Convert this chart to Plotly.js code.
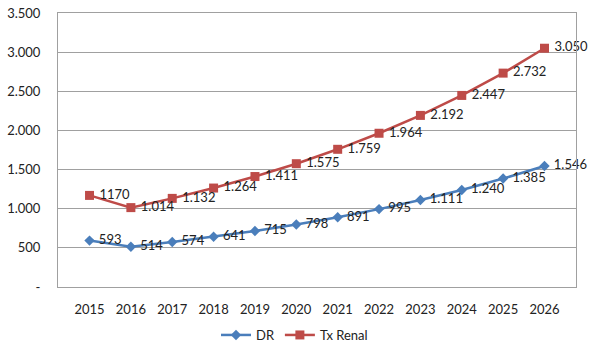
<!DOCTYPE html>
<html>
<head>
<meta charset="utf-8">
<script src="https://cdn.plot.ly/plotly-3.0.1.min.js"></script>
<style>
  html, body { margin: 0; padding: 0; background: #fff; }
  #chart { width: 589px; height: 354px; outline: 1px solid #a6a6a6; outline-offset: -2px; }
</style>
</head>
<body>
<div id="chart"></div>
<script>
const years = ['2015','2016','2017','2018','2019','2020','2021','2022','2023','2024','2025','2026'];
const drValues = [593, 514, 574, 641, 715, 798, 891, 995, 1111, 1240, 1385, 1546];
const drLabels = ['593','514','574','641','715','798','891','995','1.111','1.240','1.385','1.546'];
const txValues = [1170, 1014, 1132, 1264, 1411, 1575, 1759, 1964, 2192, 2447, 2732, 3050];
const txLabels = ['1170','1.014','1.132','1.264','1.411','1.575','1.759','1.964','2.192','2.447','2.732','3.050'];
const yTickVals = [0, 500, 1000, 1500, 2000, 2500, 3000, 3500];
const yTickText = ['-', '500', '1.000', '1.500', '2.000', '2.500', '3.000', '3.500'];

const font = { family: 'Lato, "Open Sans", sans-serif', size: 13, color: '#222' };

const traces = [
  {
    x: years, y: drValues, text: drLabels, name: 'DR',
    type: 'scatter', mode: 'lines+markers+text', textposition: 'middle right',
    texttemplate: ' %{text}',
    line: { color: '#4A7EBB', width: 2.5 },
    marker: { symbol: 'diamond', size: 8, color: '#4A7EBB' },
    textfont: font, cliponaxis: false
  },
  {
    x: years, y: txValues, text: txLabels, name: 'Tx Renal',
    type: 'scatter', mode: 'lines+markers+text', textposition: 'middle right',
    texttemplate: ' %{text}',
    line: { color: '#BE4B48', width: 2.5 },
    marker: { symbol: 'square', size: 9, color: '#BE4B48' },
    textfont: font, cliponaxis: false
  }
];

const layout = {
  width: 589, height: 354,
  margin: { l: 58, r: 13, t: 13, b: 67, autoexpand: false },
  paper_bgcolor: '#fff', plot_bgcolor: '#fff',
  font: font,
  showlegend: true,
  legend: { orientation: 'h', x: 0.5, xanchor: 'center', xref: 'container',
            y: 19 / 354, yanchor: 'middle', yref: 'container', font: font },
  xaxis: {
    type: 'category', showgrid: false, showline: true, linecolor: '#a0a0a0', linewidth: 1,
    mirror: true, ticks: '', ticklabelstandoff: 10, tickfont: font, zeroline: false
  },
  yaxis: {
    range: [0, 3500], tickvals: yTickVals, ticktext: yTickText,
    showgrid: true, gridcolor: '#a0a0a0', gridwidth: 1,
    showline: true, linecolor: '#a0a0a0', linewidth: 1, mirror: true,
    ticks: '', ticklabelstandoff: 14, tickfont: font, zeroline: false
  }
};

Plotly.newPlot('chart', traces, layout, { displayModeBar: false, staticPlot: true });
</script>
</body>
</html>
